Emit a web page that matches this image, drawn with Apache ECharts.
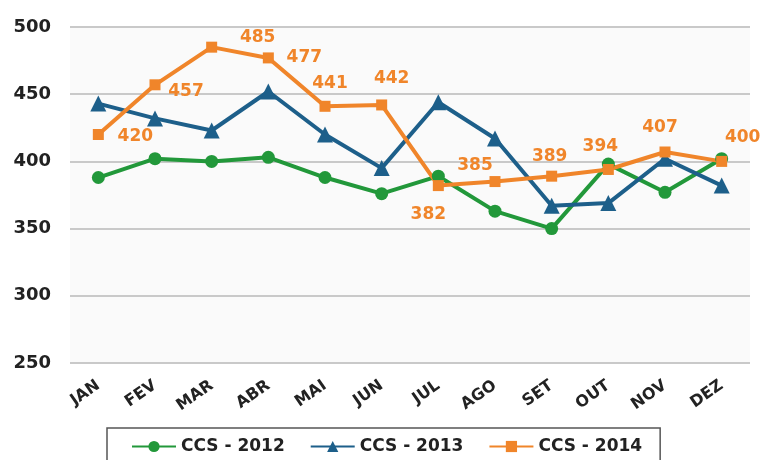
<!DOCTYPE html>
<html>
<head>
<meta charset="utf-8">
<script src="https://cdn.jsdelivr.net/npm/echarts@6/dist/echarts.min.js"></script>
<style>
  html, body { margin: 0; padding: 0; background: #fff; }
  #chart { width: 761px; height: 460px; }
</style>
</head>
<body>
<div id="chart"></div>
<script>
// Data
const months = ["JAN", "FEV", "MAR", "ABR", "MAI", "JUN", "JUL", "AGO", "SET", "OUT", "NOV", "DEZ"];
const ccs2012 = [388, 402, 400, 403, 388, 376, 389, 363, 350, 398, 377, 402];
const ccs2013 = [443, 432, 423, 452, 420, 395, 444, 417, 367, 369, 402, 382];
const ccs2014 = [420, 457, 485, 477, 441, 442, 382, 385, 389, 394, 407, 400];
const yTicks = [250, 300, 350, 400, 450, 500];

// Label offsets for the 2014 values (label centre relative to point)
const labelOffsets = [
  [37, 2], [31, 7], [46, -10], [36, 0], [5, -23], [10, -26],
  [-10, 29], [-20, -16], [-2, -20], [-8, -23], [-5, -24], [21, -24]
];

const font = "DejaVu Sans";

let chart = echarts.init(document.getElementById("chart"));

let orangeData = ccs2014.map(function (v, i) {
  return {
    value: v,
    label: {
      show: true,
      position: "inside",
      offset: labelOffsets[i]
    }
  };
});

let option = {
  animation: false,
  grid: {
    left: 70,
    right: 11,
    top: 27,
    bottom: 97,
    show: true,
    backgroundColor: "#fafafa",
    borderWidth: 0
  },
  legend: {
    left: 107,
    top: 428,
    padding: [10, 18, 30, 24],
    itemGap: 25,
    itemWidth: 44,
    itemHeight: 14,
    borderColor: "#555",
    borderWidth: 1.5,
    textStyle: {
      fontFamily: font,
      fontWeight: "bold",
      fontSize: 17,
      color: "#222"
    }
  },
  xAxis: {
    type: "category",
    data: months,
    boundaryGap: true,
    axisLine: { show: false },
    axisTick: { show: false },
    axisLabel: {
      rotate: 35,
      margin: 21,
      interval: 0,
      fontFamily: font,
      fontWeight: "bold",
      fontSize: 16,
      color: "#222"
    }
  },
  yAxis: {
    type: "value",
    min: yTicks[0],
    max: yTicks[yTicks.length - 1],
    interval: 50,
    axisLine: { show: false },
    axisTick: { show: false },
    axisLabel: {
      margin: 19,
      fontFamily: font,
      fontWeight: "bold",
      fontSize: 18,
      color: "#222"
    },
    splitLine: {
      lineStyle: { color: "#c9c9c9", width: 2 }
    }
  },
  series: [
    {
      name: "CCS - 2012",
      type: "line",
      data: ccs2012,
      symbol: "circle",
      symbolSize: 13,
      color: "#22983a",
      lineStyle: { width: 4 }
    },
    {
      name: "CCS - 2013",
      type: "line",
      data: ccs2013,
      symbol: "triangle",
      symbolSize: 16,
      color: "#1d5f8a",
      lineStyle: { width: 4 }
    },
    {
      name: "CCS - 2014",
      type: "line",
      data: orangeData,
      symbol: "rect",
      symbolSize: 11,
      color: "#f0852a",
      lineStyle: { width: 4 },
      label: {
        fontFamily: font,
        fontWeight: "bold",
        fontSize: 17,
        color: "#f0852a"
      }
    }
  ]
};

chart.setOption(option);
</script>
</body>
</html>
